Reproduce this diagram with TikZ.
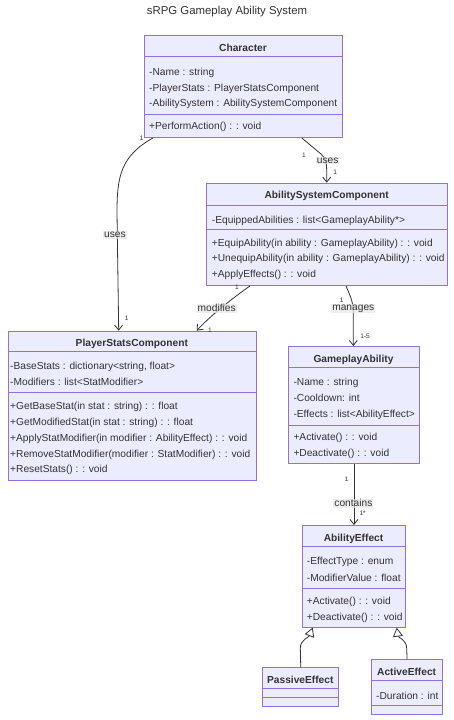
\documentclass[tikz,border=0pt]{standalone}
\usepackage{fontspec}
\setmainfont{Liberation Sans}
\usetikzlibrary{arrows.meta,calc}
\definecolor{cfill}{HTML}{ECECFF}
\definecolor{cline}{HTML}{9370DB}
\definecolor{ctext}{HTML}{333333}
\definecolor{lblbg}{HTML}{E8E8E8}
\begin{document}
\begin{tikzpicture}[x=1pt,y=-1pt,
 classbox/.style={draw=cline, fill=cfill, line width=0.9pt, rectangle, inner sep=0pt, anchor=north west},
 sepline/.style={draw=cline, line width=0.9pt},
 member/.style={anchor=base west, inner sep=0pt, text=ctext, font=\fontsize{10.2}{12}\selectfont},
 ctitle/.style={anchor=base, inner sep=0pt, text=ctext, font=\fontsize{10.2}{12}\selectfont\bfseries},
 edge/.style={draw=ctext, line width=0.8pt},
 assoc/.style={edge, -{Straight Barb[length=5pt,width=8pt]}},
 inherit/.style={edge, -{Triangle[open, length=9pt, width=10pt, fill=white]}},
 elabel/.style={fill=lblbg, fill opacity=0.7, text opacity=1, text=ctext, inner sep=1pt, font=\fontsize{10.2}{12}\selectfont},
 mult/.style={text=ctext, inner sep=0pt, font=\fontsize{6.5}{7}\selectfont},
]
\fill[white] (0,0) rectangle (454,720);
\useasboundingbox (0,0) rectangle (454,720);

\node[anchor=base, inner sep=0pt, text=ctext, font=\fontsize{11.4}{13}\selectfont] (title) at (227,14) {sRPG Gameplay Ability System};

% Character
\node[classbox, minimum width=198pt, minimum height=102pt] (char) at (144,35) {};
\draw[sepline] (144,56.7) -- (342,56.7);
\draw[sepline] (144,114.3) -- (342,114.3);
\node[ctitle] (chart) at (243,51.4) {Character};
\node[member] (c1) at (149,75) {-Name : string};
\node[member] (c2) at (149,91.4) {-PlayerStats : PlayerStatsComponent};
\node[member] (c3) at (149,106.4) {-AbilitySystem : AbilitySystemComponent};
\node[member] (c4) at (149,129.7) {+PerformAction() : : void};

% AbilitySystemComponent
\node[classbox, minimum width=241.3pt, minimum height=102.3pt] (asc) at (206,182.7) {};
\draw[sepline] (206,205) -- (447.3,205);
\draw[sepline] (206,229) -- (447.3,229);
\node[ctitle] (asct) at (326.65,198.7) {AbilitySystemComponent};
\node[member] (a1) at (211.7,223) {-EquippedAbilities : list<GameplayAbility*>};
\node[member] (a2) at (211.7,246) {+EquipAbility(in ability : GameplayAbility) : : void};
\node[member] (a3) at (211.7,261.4) {+UnequipAbility(in ability : GameplayAbility) : : void};
\node[member] (a4) at (211.7,277.7) {+ApplyEffects() : : void};

% PlayerStatsComponent
\node[classbox, minimum width=248.3pt, minimum height=149.3pt] (psc) at (7.7,330.7) {};
\draw[sepline] (7.7,351) -- (256,351);
\draw[sepline] (7.7,392.7) -- (256,392.7);
\node[ctitle] (psct) at (131.85,346) {PlayerStatsComponent};
\node[member] (p1) at (10,369.7) {-BaseStats : dictionary<string, float>};
\node[member] (p2) at (10,385.4) {-Modifiers : list<StatModifier>};
\node[member] (p3) at (10,409.7) {+GetBaseStat(in stat : string) : : float};
\node[member] (p4) at (10,425.4) {+GetModifiedStat(in stat : string) : : float};
\node[member] (p5) at (10,441) {+ApplyStatModifier(in modifier : AbilityEffect) : : void};
\node[member] (p6) at (10,457) {+RemoveStatModifier(modifier : StatModifier) : : void};
\node[member] (p7) at (10,472.7) {+ResetStats() : : void};

% GameplayAbility
\node[classbox, minimum width=131.6pt, minimum height=117.3pt] (ga) at (287.7,346) {};
\draw[sepline] (287.7,367.7) -- (419.3,367.7);
\draw[sepline] (287.7,425) -- (419.3,425);
\node[ctitle] (gat) at (353.5,362) {GameplayAbility};
\node[member] (g1) at (293.3,385.4) {-Name : string};
\node[member] (g2) at (293.3,401.4) {-Cooldown: int};
\node[member] (g3) at (293.3,417.7) {-Effects : list<AbilityEffect>};
\node[member] (g4) at (293.3,440.4) {+Activate() : : void};
\node[member] (g5) at (293.3,456.4) {+Deactivate() : : void};

% AbilityEffect
\node[classbox, minimum width=103.6pt, minimum height=101.7pt] (ae) at (301.7,525) {};
\draw[sepline] (301.7,546.7) -- (405.3,546.7);
\draw[sepline] (301.7,588.3) -- (405.3,588.3);
\node[ctitle] (aet) at (353.5,541.4) {AbilityEffect};
\node[member] (e1) at (306.7,564.4) {-EffectType : enum};
\node[member] (e2) at (306.7,581) {-ModifierValue : float};
\node[member] (e3) at (306.7,604.4) {+Activate() : : void};
\node[member] (e4) at (306.7,620.4) {+Deactivate() : : void};

% PassiveEffect
\node[classbox, minimum width=76pt, minimum height=38.4pt] (pe) at (262.3,667.3) {};
\draw[sepline] (262.3,688.7) -- (338.3,688.7);
\draw[sepline] (262.3,697.3) -- (338.3,697.3);
\node[ctitle] (pet) at (300.3,683.7) {PassiveEffect};

% ActiveEffect
\node[classbox, minimum width=71.3pt, minimum height=54.7pt] (acte) at (371,659.3) {};
\draw[sepline] (371,680.7) -- (442.3,680.7);
\draw[sepline] (371,705.7) -- (442.3,705.7);
\node[ctitle] (actet) at (406.65,675.4) {ActiveEffect};
\node[member] (x1) at (376,699) {-Duration : int};

% edges
\draw[assoc] ($(char.south west)+(9,0)$) .. controls (121,156) and (117,176) .. (117,212) -- ($(psc.north west)+(111,0)$);
\node[elabel] (l1) at (115,235) {uses};
\node[mult] (m1a) at (141.7,138.3) {1};
\node[mult] (m1b) at (126.7,318.3) {1};

\draw[assoc] ($(char.south west)+(157.7,0)$) -- (321,154) .. controls (326,159) and (326.7,163) .. (326.7,170) -- ($(asc.north west)+(120.7,0)$);
\node[elabel] (l2) at (327.7,160.7) {uses};
\node[mult] (m2a) at (304,155.7) {1};
\node[mult] (m2b) at (335.3,172.7) {1};

\draw[assoc] ($(asc.south west)+(44,0)$) .. controls (230,300) and (208,318) .. ($(psc.north west)+(189,0)$);
\node[elabel] (l3) at (216.7,308.3) {modifies};
\node[mult] (m3a) at (237,287) {1};
\node[mult] (m3b) at (210,330) {1};

\draw[assoc] ($(asc.south west)+(140,0)$) .. controls (350,296) and (353.3,300) .. (353.3,315) -- ($(ga.north west)+(65.6,0)$);
\node[elabel] (l4) at (353.3,308.6) {manages};
\node[mult] (m4a) at (341.7,299.8) {1};
\node[mult] (m4b) at (365,336.7) {1-5};

\draw[assoc] (ga.south) -- (ae.north);
\node[elabel] (l5) at (353.4,503.3) {contains};
\node[mult] (m5a) at (346.7,479.3) {1};
\node[mult] (m5b) at (362.7,513.3) {1*};

\draw[inherit] (pe.north) -- (300.3,648) .. controls (300.3,640) and (309,637) .. ($(ae.south west)+(11,0)$);
\draw[inherit] (acte.north) -- (406.65,648) .. controls (406.65,640) and (398,637) .. ($(ae.south west)+(95,0)$);
\end{tikzpicture}
\end{document}
